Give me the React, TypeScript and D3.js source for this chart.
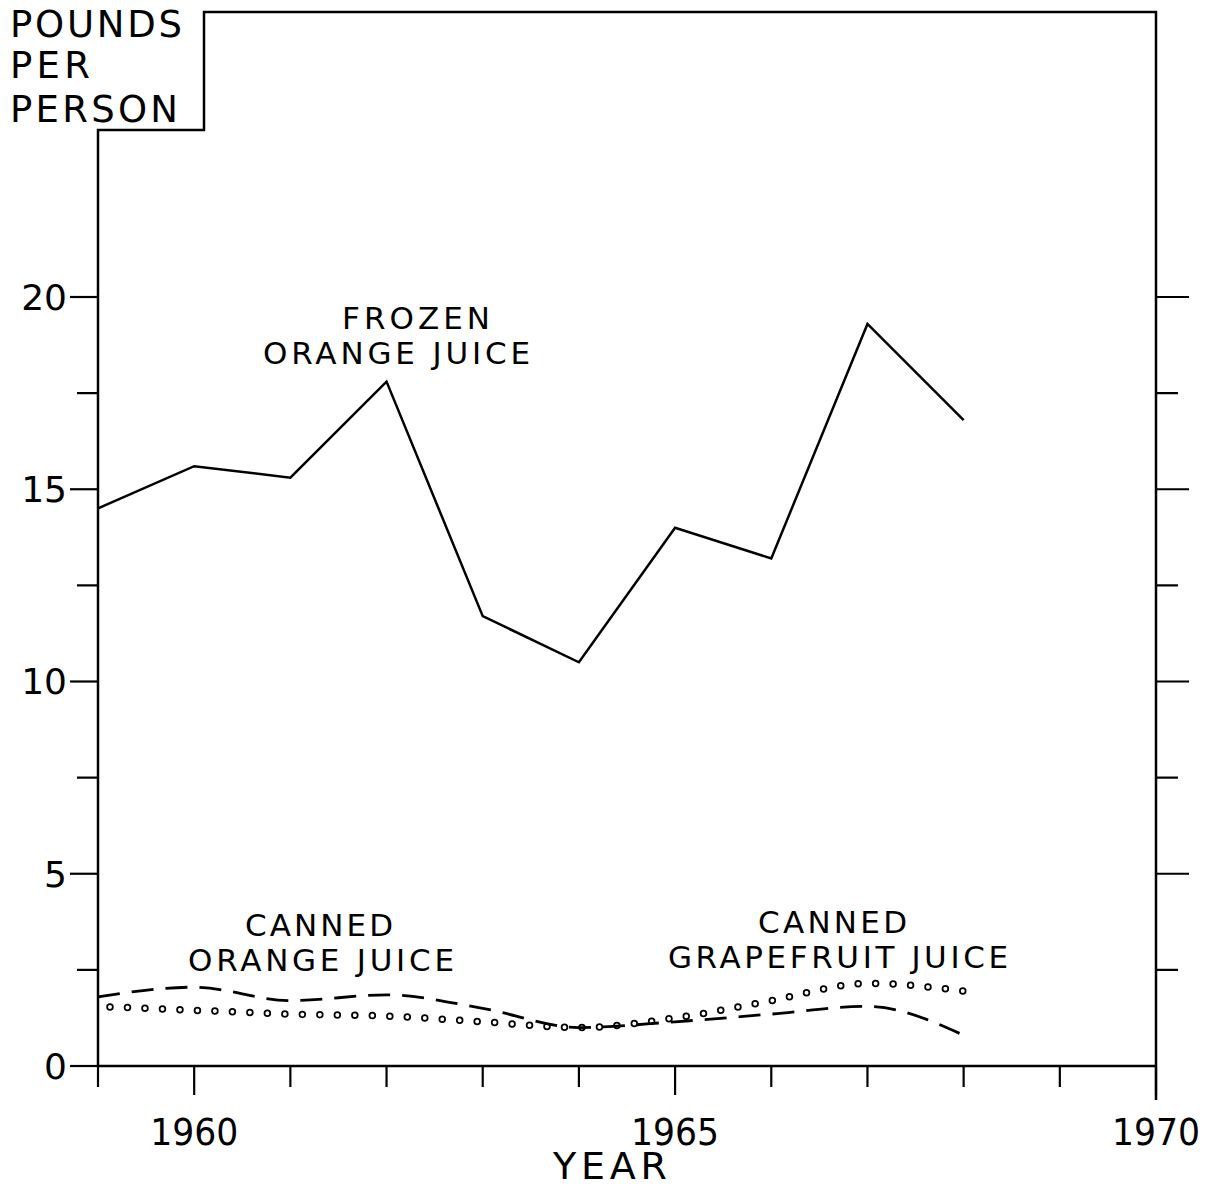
import * as d3 from 'd3';
import React from 'react';

// values (pounds per person)
const years = [1959, 1960, 1961, 1962, 1963, 1964, 1965, 1966, 1967, 1968];
const frozenOrange = [14.5, 15.6, 15.3, 17.8, 11.7, 10.5, 14.0, 13.2, 19.3, 16.8];
const cannedOrange = [1.8, 2.05, 1.7, 1.85, 1.5, 1.0, 1.15, 1.35, 1.55, 0.8];
const cannedGrapefruit = [1.55, 1.45, 1.35, 1.3, 1.15, 1.0, 1.25, 1.7, 2.15, 1.95];

const yTicks = [0, 2.5, 5, 7.5, 10, 12.5, 15, 17.5, 20];
const yMajor = [0, 5, 10, 15, 20];
const xTicks = [1959, 1960, 1961, 1962, 1963, 1964, 1965, 1966, 1967, 1968, 1969, 1970];
const xMajor = [1960, 1965, 1970];

const FONT = '"DejaVu Sans", sans-serif';

// multi-line label, kept as one text element
function Label({ lines, size }) {
  return (
    <text fontSize={size} fill="#000">
      {lines.map((l, i) => (
        <tspan key={i} x={l.x} y={l.y} textLength={l.w} lengthAdjust="spacing">
          {l.t}
        </tspan>
      ))}
    </text>
  );
}

export default function App() {
  const width = 1208;
  const height = 1188;

  const x = d3.scaleLinear().domain([1959, 1970]).range([98, 1156]);
  const y = d3.scaleLinear().domain([0, 20]).range([1066, 297]);

  const x0 = x(1959);
  const x1 = x(1970);
  const yBase = y(0);
  const frameTop = 12;
  const notchY = 130;
  const notchX = 204;

  const straight = d3
    .line<number>()
    .x((d, i) => x(years[i]))
    .y(d => y(d));

  const smooth = d3
    .line<number>()
    .x((d, i) => x(years[i]))
    .y(d => y(d))
    .curve(d3.curveMonotoneX);

  const framePath = `M${x0},${yBase} L${x0},${notchY} L${notchX},${notchY} L${notchX},${frameTop} L${x1},${frameTop} L${x1},${yBase + 34}`;

  const gfPath = smooth(cannedGrapefruit);

  return (
    <svg
      width={width}
      height={height}
      style={{ position: 'absolute', left: 0, top: 0, background: '#fff' }}
      fontFamily={FONT}
    >
      <rect width={width} height={height} fill="#fff" />

      {/* frame and axes */}
      <path d={framePath} fill="none" stroke="#000" strokeWidth={2.5} />
      <line x1={x0} x2={x1} y1={yBase} y2={yBase} stroke="#000" strokeWidth={2.5} />

      {/* left ticks */}
      {yTicks.map(t => {
        const major = yMajor.includes(t);
        return (
          <line
            key={'yl' + t}
            x1={x0 - (major ? 28 : 21)}
            x2={x0}
            y1={y(t)}
            y2={y(t)}
            stroke="#000"
            strokeWidth={2.2}
          />
        );
      })}
      {yMajor.map(t => (
        <text
          key={'ylab' + t}
          x={x0 - 31}
          y={y(t)}
          dy="0.36em"
          textAnchor="end"
          fontSize={36}
          fill="#000"
        >
          {t}
        </text>
      ))}

      {/* right ticks */}
      {yTicks
        .filter(t => t > 0)
        .map(t => {
          const major = yMajor.includes(t);
          return (
            <line
              key={'yr' + t}
              x1={x1}
              x2={x1 + (major ? 33 : 22)}
              y1={y(t)}
              y2={y(t)}
              stroke="#000"
              strokeWidth={2.2}
            />
          );
        })}

      {/* bottom ticks */}
      {xTicks.map(t => {
        const major = xMajor.includes(t);
        return (
          <line
            key={'xt' + t}
            x1={x(t)}
            x2={x(t)}
            y1={yBase}
            y2={yBase + (major ? 29 : 21)}
            stroke="#000"
            strokeWidth={2.2}
          />
        );
      })}
      {xMajor.map(t => (
        <text
          key={'xlab' + t}
          x={x(t)}
          y={yBase + 79}
          textAnchor="middle"
          fontSize={38}
          textLength={88}
          lengthAdjust="spacingAndGlyphs"
          fill="#000"
        >
          {t}
        </text>
      ))}
      <text x={610} y={1179} textAnchor="middle" fontSize={38} textLength={114} lengthAdjust="spacing" fill="#000">
        YEAR
      </text>

      {/* y axis title in the notch */}
      <Label
        size={37}
        lines={[
          { t: 'POUNDS', x: 10, y: 37, w: 172 },
          { t: 'PER', x: 10, y: 78, w: 80 },
          { t: 'PERSON', x: 10, y: 122, w: 168 },
        ]}
      />

      {/* canned grapefruit juice: open circles */}
      <path
        d={gfPath}
        fill="none"
        stroke="#000"
        strokeWidth={7.5}
        strokeLinecap="round"
        strokeDasharray="0 17.5"
        strokeDashoffset={-12}
      />
      <path
        d={gfPath}
        fill="none"
        stroke="#fff"
        strokeWidth={4}
        strokeLinecap="round"
        strokeDasharray="0 17.5"
        strokeDashoffset={-12}
      />

      {/* canned orange juice: dashed */}
      <path
        d={smooth(cannedOrange)}
        fill="none"
        stroke="#000"
        strokeWidth={2.8}
        strokeDasharray="22 12"
      />

      {/* frozen orange juice: solid */}
      <path d={straight(frozenOrange)} fill="none" stroke="#000" strokeWidth={2.5} />

      {/* series labels */}
      <Label
        size={31}
        lines={[
          { t: 'FROZEN', x: 342, y: 329, w: 148 },
          { t: 'ORANGE JUICE', x: 263, y: 364, w: 267 },
        ]}
      />
      <Label
        size={31}
        lines={[
          { t: 'CANNED', x: 245, y: 936, w: 148 },
          { t: 'ORANGE JUICE', x: 188, y: 971, w: 266 },
        ]}
      />
      <Label
        size={31}
        lines={[
          { t: 'CANNED', x: 758, y: 933, w: 149 },
          { t: 'GRAPEFRUIT JUICE', x: 668, y: 968, w: 340 },
        ]}
      />
    </svg>
  );
}
